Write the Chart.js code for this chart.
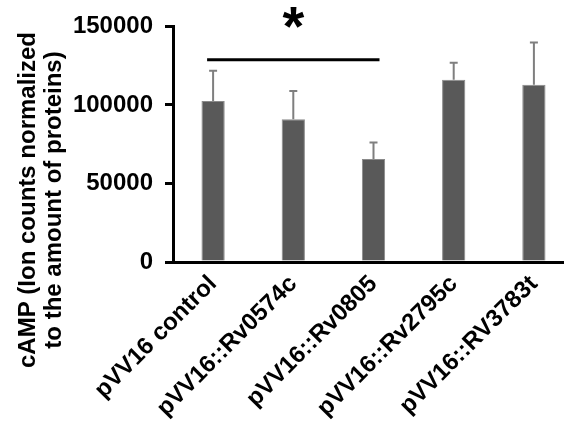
<!DOCTYPE html>
<html>
<head>
<meta charset="utf-8">
<script src="https://cdn.jsdelivr.net/npm/chart.js@4/dist/chart.umd.min.js"></script>
<style>
  html, body { margin: 0; padding: 0; background: #fff; overflow: hidden; }
  #wrap { width: 574px; height: 434px; position: relative; }
</style>
</head>
<body>
<div id="wrap"><canvas id="bar-chart"></canvas></div>
<script>
// data
const strains = ['pVV16 control', 'pVV16::Rv0574c', 'pVV16::Rv0805', 'pVV16::Rv2795c', 'pVV16::RV3783t'];
const campMeans = [102500, 90900, 65600, 116000, 112900];
const campErrors = [19200, 18000, 10500, 10800, 26800];
const yTicks = [0, 50000, 100000, 150000];
const titleLines = ['cAMP (Ion counts normalized', 'to the amount of proteins)'];
// significance bracket: between groups 0 and 2
const sigPair = [0, 2];
const sigLevel = 128700;
const sigMark = '*';

const FONT = "'Liberation Sans', Arial, sans-serif";

// error bars (upper only) + significance line + star + y title
const extras = {
    id: 'extras',
    afterDatasetsDraw(chart) {
        const ctx = chart.ctx;
        const xs = chart.scales.x, ys = chart.scales.y;
        ctx.save();
        ctx.strokeStyle = '#7f7f7f';
        ctx.lineWidth = 2;
        campMeans.forEach((v, i) => {
            const x = xs.getPixelForValue(i);
            const y0 = ys.getPixelForValue(v);
            const y1 = ys.getPixelForValue(v + campErrors[i]);
            ctx.beginPath();
            ctx.moveTo(x, y0);
            ctx.lineTo(x, y1);
            ctx.moveTo(x - 4, y1);
            ctx.lineTo(x + 4, y1);
            ctx.stroke();
        });

        // significance line
        const yl = ys.getPixelForValue(sigLevel);
        const xa = xs.getPixelForValue(sigPair[0]) - 6;
        const xb = xs.getPixelForValue(sigPair[1]) + 6;
        ctx.strokeStyle = '#000';
        ctx.lineWidth = 3;
        ctx.beginPath();
        ctx.moveTo(xa, yl);
        ctx.lineTo(xb, yl);
        ctx.stroke();

        ctx.fillStyle = '#000';
        ctx.font = 'bold 56px ' + FONT;
        ctx.textAlign = 'center';
        ctx.textBaseline = 'alphabetic';
        ctx.fillText(sigMark, (xa + xb) / 2, 45);

        // y axis title, two lines
        ctx.font = 'bold 24px ' + FONT;
        ctx.translate(0, 200);
        ctx.rotate(-Math.PI / 2);
        ctx.fillText(titleLines[0], 0, 35);
        ctx.fillText(titleLines[1], 0, 61);
        ctx.restore();
    }
};

const ctx = document.getElementById('bar-chart').getContext('2d');
const chart = new Chart(ctx, {
    type: 'bar',
    data: {
        labels: strains,
        datasets: [{
            data: campMeans,
            backgroundColor: '#595959',
            borderColor: '#8a8a8a',
            borderWidth: 1,
            barPercentage: 0.29,
            categoryPercentage: 1
        }]
    },
    options: {
        responsive: true,
        maintainAspectRatio: false,
        animation: false,
        layout: { padding: { top: 25, left: 0, right: 0, bottom: 0 } },
        plugins: {
            legend: { display: false },
            tooltip: { enabled: false }
        },
        scales: {
            x: {
                afterFit: (s) => { s.height = 172; },
                grid: { display: true, drawOnChartArea: false, drawTicks: false, color: 'rgba(0,0,0,0)' },
                border: { display: true, color: '#000', width: 3 },
                ticks: {
                    autoSkip: false,
                    minRotation: 45,
                    maxRotation: 45,
                    padding: 8,
                    color: '#000',
                    font: { family: FONT, size: 24, weight: 'bold' }
                }
            },
            y: {
                min: 0,
                max: 150000,
                afterFit: (s) => { s.width = 173; },
                afterBuildTicks: (s) => { s.ticks = yTicks.map(v => ({ value: v })); },
                grid: { display: true, drawOnChartArea: false, drawTicks: true, tickLength: 8, color: '#000', lineWidth: 3 },
                border: { display: true, color: '#000', width: 3 },
                ticks: {
                    padding: 12,
                    color: '#000',
                    font: { family: FONT, size: 24, weight: 'bold' },
                    callback: (v) => String(v)
                }
            }
        }
    },
    plugins: [extras]
});
</script>
</body>
</html>
